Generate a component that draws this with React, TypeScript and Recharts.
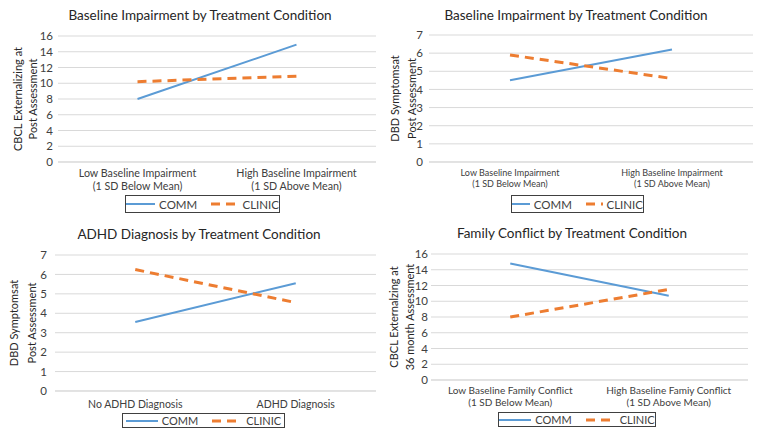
import * as React from 'react';
import { LineChart, Line, XAxis, YAxis, CartesianGrid } from 'recharts';

// panel 1: baseline impairment -> CBCL externalizing
const p1Categories = ['Low Baseline Impairment|(1 SD Below Mean)', 'High Baseline Impairment|(1 SD Above Mean)'];
const p1Comm = [8.0, 14.9];
const p1Clinic = [10.2, 10.9];

// panel 2: baseline impairment -> DBD symptoms
const p2Categories = ['Low Baseline Impairment|(1 SD Below Mean)', 'High Baseline Impairment|(1 SD Above Mean)'];
const p2Comm = [4.5, 6.2];
const p2Clinic = [5.9, 4.6];

// panel 3: ADHD diagnosis -> DBD symptoms
const p3Categories = ['No ADHD Diagnosis', 'ADHD Diagnosis'];
const p3Comm = [3.55, 5.55];
const p3Clinic = [6.25, 4.55];

// panel 4: family conflict -> CBCL externalizing at 36 months
const p4Categories = ['Low Baseline Family Conflict|(1 SD Below Mean)', 'High Baseline Famiy Conflict|(1 SD Above Mean)'];
const p4Comm = [14.8, 10.7];
const p4Clinic = [8.0, 11.5];

const ticks16 = [0, 2, 4, 6, 8, 10, 12, 14, 16];
const ticks7 = [0, 1, 2, 3, 4, 5, 6, 7];

const BLUE = '#5B9BD5';
const ORANGE = '#ED7D31';
const FONT = 'Lato, "Open Sans", sans-serif';

const build = (cats: string[], comm: number[], clinic: number[]) =>
  cats.map((c, i) => ({ name: c, COMM: comm[i], CLINIC: clinic[i] }));

interface PanelProps {
  left: number;
  top: number;
  title: string;
  titleX: number;
  titleY: number;
  yLabel: string[];
  yLabelX: number[];
  data: { name: string; COMM: number; CLINIC: number }[];
  ticks: number[];
  plot: { l: number; r: number; t: number; b: number };
  tickGap: number;
  catY: number;
  catSize: number;
  legend: { x: number; y: number; w: number; h: number };
}

const W = 381;
const H = 217;

const Panel: React.FC<PanelProps> = (p) => {
  const plotW = p.plot.r - p.plot.l;
  const xAxisH = H - p.plot.b;
  const yMax = p.ticks[p.ticks.length - 1];

  const renderTick = (props: any) => {
    const lines = String(props.payload.value).split('|');
    return (
      <text x={props.x} y={p.catY} textAnchor="middle" fill="#404040" fontSize={p.catSize} fontFamily={FONT}>
        {lines.map((ln, i) => (
          <tspan key={i} x={props.x} dy={i === 0 ? 0 : p.catSize + 2}>
            {ln}
          </tspan>
        ))}
      </text>
    );
  };

  const renderYLabel = (props: any) => {
    const vb = props.viewBox || {};
    const cy = (vb.y ?? p.plot.t) + (vb.height ?? p.plot.b - p.plot.t) / 2;
    return (
      <g>
        {p.yLabel.map((ln, i) => (
          <text
            key={i}
            x={p.yLabelX[i]}
            y={cy}
            transform={`rotate(-90 ${p.yLabelX[i]} ${cy})`}
            textAnchor="middle"
            dominantBaseline="central"
            fill="#262626"
            fontSize={11}
            fontFamily={FONT}
          >
            {ln}
          </text>
        ))}
      </g>
    );
  };

  return (
    <div style={{ position: 'absolute', left: p.left, top: p.top, width: W, height: H }}>
      <LineChart
        width={W}
        height={H}
        data={p.data}
        margin={{ top: p.plot.t, right: W - p.plot.r, left: 0, bottom: 0 }}
      >
        <CartesianGrid vertical={false} stroke="#d9d9d9" />
        <XAxis
          dataKey="name"
          height={xAxisH}
          axisLine={{ stroke: '#d9d9d9' }}
          tickLine={false}
          interval={0}
          padding={{ left: plotW / 4, right: plotW / 4 }}
          tick={renderTick}
        />
        <YAxis
          width={p.plot.l}
          domain={[0, yMax]}
          ticks={p.ticks}
          interval={0}
          axisLine={false}
          tickLine={false}
          tickSize={0}
          tickMargin={p.tickGap}
          tick={{ fill: '#404040', fontSize: 11.5, fontFamily: FONT }}
          label={{ content: renderYLabel }}
        />
        <Line type="linear" dataKey="COMM" stroke={BLUE} strokeWidth={2} dot={false} isAnimationActive={false} />
        <Line
          type="linear"
          dataKey="CLINIC"
          stroke={ORANGE}
          strokeWidth={3}
          strokeDasharray="9 6"
          dot={false}
          isAnimationActive={false}
        />
      </LineChart>
      <div
        style={{
          position: 'absolute',
          left: p.titleX - 180,
          width: 360,
          top: p.titleY - 10,
          textAlign: 'center',
          fontFamily: FONT,
          fontSize: 13.5,
          color: '#262626',
          lineHeight: '20px',
        }}
      >
        {p.title}
      </div>
      <div
        style={{
          position: 'absolute',
          left: p.legend.x,
          top: p.legend.y,
          width: p.legend.w,
          height: p.legend.h,
          boxSizing: 'border-box',
          border: '1.5px solid #404040',
          display: 'flex',
          alignItems: 'center',
          justifyContent: 'center',
          gap: 4,
          fontFamily: FONT,
          fontSize: p.legend.h > 16 ? 11.5 : 11,
          color: '#404040',
        }}
      >
        <svg width={32} height={6}>
          <line x1={0} y1={3} x2={32} y2={3} stroke={BLUE} strokeWidth={2} />
        </svg>
        <span style={{ marginRight: 10 }}>COMM</span>
        <svg width={30} height={6}>
          <line x1={0} y1={3} x2={30} y2={3} stroke={ORANGE} strokeWidth={3} strokeDasharray="9 6" />
        </svg>
        <span>CLINIC</span>
      </div>
    </div>
  );
};

const App: React.FC = () => {
  return (
    <div style={{ position: 'absolute', left: 0, top: 0, width: 762, height: 434, background: '#fff', overflow: 'hidden' }}>
      <Panel
        left={0}
        top={0}
        title="Baseline Impairment by Treatment Condition"
        titleX={200}
        titleY={15}
        yLabel={['CBCL Externalizing at', 'Post Assessment']}
        yLabelX={[17, 32]}
        data={build(p1Categories, p1Comm, p1Clinic)}
        ticks={ticks16}
        plot={{ l: 58, r: 376, t: 36, b: 162 }}
        tickGap={5}
        catY={177}
        catSize={10.7}
        legend={{ x: 125, y: 195, w: 155, h: 18 }}
      />
      <Panel
        left={381}
        top={0}
        title="Baseline Impairment by Treatment Condition"
        titleX={195}
        titleY={15}
        yLabel={['DBD Symptomsat', 'Post Assessment']}
        yLabelX={[13, 30]}
        data={build(p2Categories, p2Comm, p2Clinic)}
        ticks={ticks7}
        plot={{ l: 48, r: 372, t: 35, b: 162 }}
        tickGap={6}
        catY={176}
        catSize={9}
        legend={{ x: 130, y: 195, w: 133, h: 18 }}
      />
      <Panel
        left={0}
        top={217}
        title="ADHD Diagnosis by Treatment Condition"
        titleX={199}
        titleY={17}
        yLabel={['DBD Symptomsat', 'Post Assessment']}
        yLabelX={[13, 31]}
        data={build(p3Categories, p3Comm, p3Clinic)}
        ticks={ticks7}
        plot={{ l: 55, r: 376, t: 38, b: 174 }}
        tickGap={8}
        catY={191}
        catSize={10.5}
        legend={{ x: 122, y: 196, w: 163, h: 15 }}
      />
      <Panel
        left={381}
        top={217}
        title="Family Conflict by Treatment Condition"
        titleX={191}
        titleY={16}
        yLabel={['CBCL Externalzing at', '36 month Assessment']}
        yLabelX={[12, 28]}
        data={build(p4Categories, p4Comm, p4Clinic)}
        ticks={ticks16}
        plot={{ l: 50, r: 367, t: 37, b: 163 }}
        tickGap={3}
        catY={177}
        catSize={10}
        legend={{ x: 117, y: 195, w: 158, h: 15 }}
      />
    </div>
  );
};

export default App;
